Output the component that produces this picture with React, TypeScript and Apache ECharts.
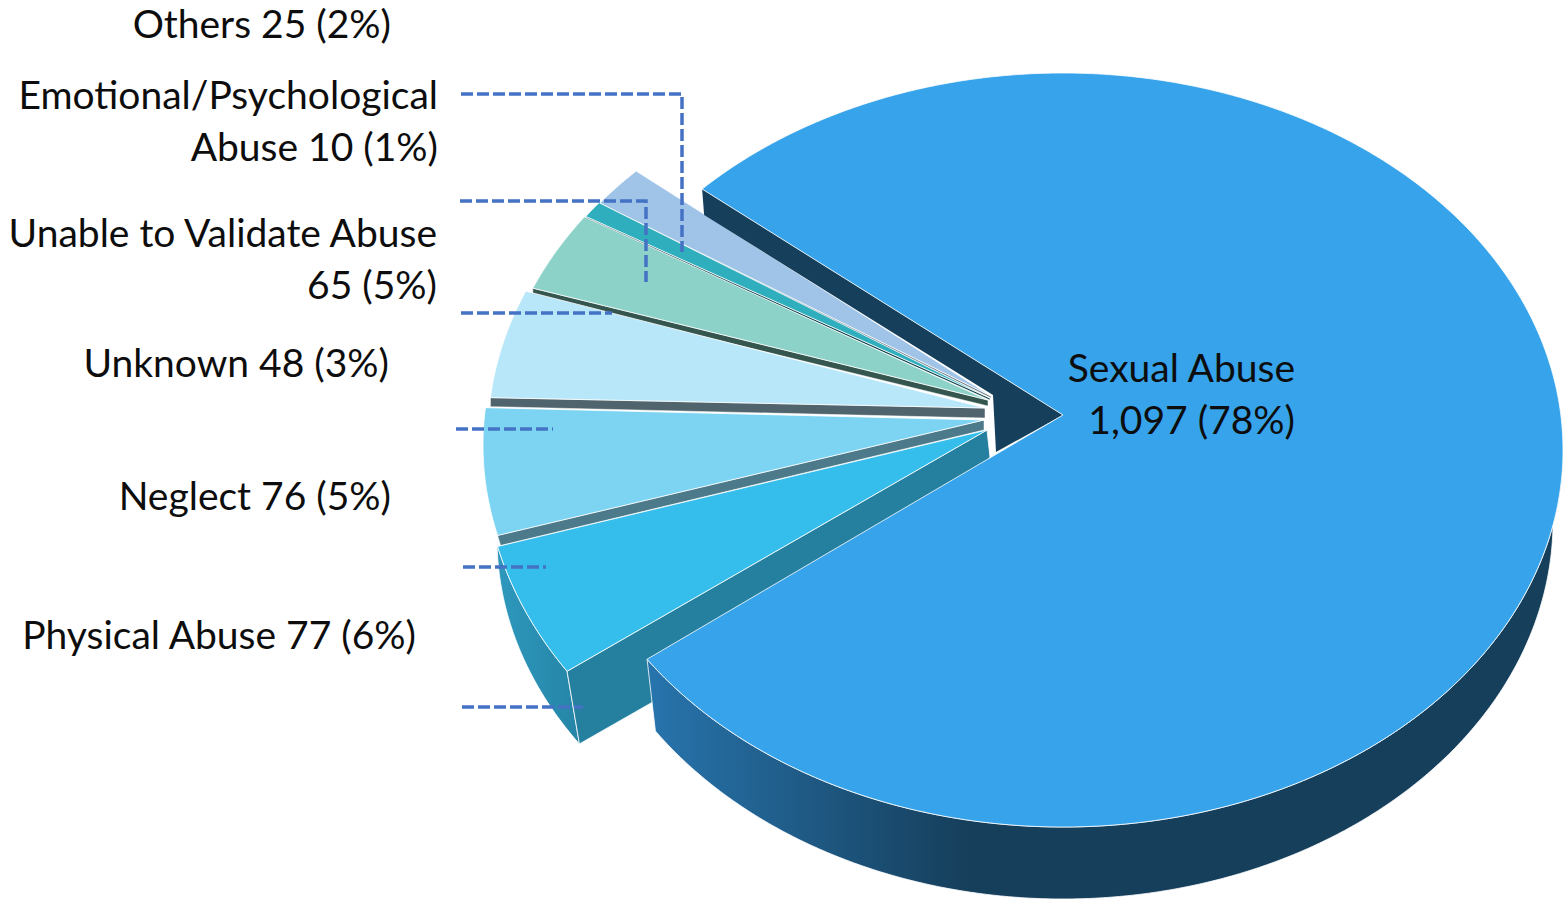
import React, { useEffect, useRef } from "react";
import * as echarts from "echarts";

// ---- data, clockwise from the large slice ----
const names = ["Sexual Abuse", "Physical Abuse", "Neglect", "Unable to Validate Abuse", "Unknown", "Emotional/Psychological\nAbuse", "Others"];
const values = [1097, 77, 76, 65, 48, 10, 25];
const percents = [78, 6, 5, 5, 3, 1, 2];
const separators = ["\n", " ", " ", "\n", " ", " ", " "];

// ---- styles and layout ----
const FONT = "Lato";
const TEXT_COLOR = "#0d0d0d";
const LEADER_COLOR = "#4472c4";
const EDGE = "rgba(255,255,255,0.8)";
const topColors = ["#36a3eb", "#35bdeb", "#7dd4f2", "#b7e7f8", "#8cd2c8", "#2faebd", "#a0c4e8"];
const bandColors = ["", "", "#4d7a8a", "#4f646c", "#35564f", "#15454e", "#6f7a85"];
const bandDepthOuter = [0, 0, 10, 9, 7, 3, 2];
const bandDepthInner = [0, 0, 10, 10, 6, 2, 2];
const bandShiftOuter = [0, 0, 3, 0, 0, 0, 0];
const centers = [[1063, 450], [983, 451.5], [983, 445], [988, 435], [995, 432], [996.5, 431.5], [997, 432]];
const apexes = [[1063, 415], [987, 430], [984, 420], [985, 408], [988, 400], [990, 398], [991, 396]];
const ryPerSlice = [377, 396, 377, 377, 377, 377, 377];
const RX = 500;
const START_ANGLE = 136.2;
const drawOrder = [6, 5, 4, 3, 2, 1, 0];
const labelBoxes = [
  { x: 1295, y: 393, lh: 52 },
  { x: 416, y: 634, lh: 38 },
  { x: 391, y: 495, lh: 38 },
  { x: 437, y: 258, lh: 52 },
  { x: 389, y: 362, lh: 38 },
  { x: 438, y: 120, lh: 52 },
  { x: 391, y: 23, lh: 38 },
];
const leaders = [
  [[461, 94], [682, 94], [682, 252]],
  [[460, 201], [646, 201], [646, 282]],
  [[461, 313], [612, 313]],
  [[456, 429], [553, 429]],
  [[463, 567], [546, 567]],
  [[462, 707], [583, 707]],
];

const total = values.reduce((a, b) => a + b, 0);

function bounds(i: number) {
  let a = START_ANGLE;
  for (let k = 0; k < i; k++) a -= (values[k] / total) * 360;
  const end = a - (values[i] / total) * 360;
  // the small slices are kept on the 90..270 degree side of the ellipse
  return i === 0 ? [a, end] : [a + 360, end + 360];
}
function rim(c: number[], rx: number, ry: number, deg: number) {
  const t = (deg * Math.PI) / 180;
  return [c[0] + rx * Math.cos(t), c[1] - ry * Math.sin(t)];
}
function arc(c: number[], rx: number, ry: number, from: number, to: number) {
  const n = Math.max(2, Math.ceil(Math.abs(to - from) * 2));
  const out: number[][] = [];
  for (let k = 0; k <= n; k++) out.push(rim(c, rx, ry, from + ((to - from) * k) / n));
  return out;
}
function poly(points: number[][], fill: any, stroke: any = EDGE, lineWidth = 1) {
  return { type: "polygon", shape: { points }, style: { fill, stroke, lineWidth } };
}

function renderSlice(_: any, api: any) {
  const i = api.value(0) as number;
  const [a0, a1] = bounds(i);
  const c = centers[i];
  const ap = apexes[i];
  const ry = ryPerSlice[i];
  const children: any[] = [];
  if (i === 0) {
    const bc = [1063, 521.5];
    const wallFill = new echarts.graphic.LinearGradient(655, 0, 965, 0, [
      { offset: 0, color: "#2773ab" },
      { offset: 1, color: "#163f5c" },
    ], true);
    const wall = [...arc(c, RX, ry, a1, 0), ...arc(bc, 490, 377.5, 0, a1)];
    children.push(poly(wall, wallFill));
    const upper = rim(c, RX, ry, a0);
    children.push(poly([upper, ap, [996, 452], [993, 395], [upper[0] + 2, upper[1] + 26]], "#163f5c", "none", 0));
    children.push(poly([ap, ...arc(c, RX, ry, a0, a1)], topColors[0]));
  } else if (i === 1) {
    const bc = [987, 538];
    const p0 = rim(c, RX, ry, a0);
    const p1 = rim(c, RX, ry, a1);
    const wallFill = new echarts.graphic.LinearGradient(497, 0, 580, 0, [
      { offset: 0, color: "#2e98bd" },
      { offset: 1, color: "#2585a6" },
    ], true);
    const bottom = arc(bc, 490, 371, 180, a0);
    children.push(poly([p1, ...bottom, p0, ...arc(c, RX, ry, a0, a1)], wallFill));
    const b0 = rim(bc, 490, 371, a0);
    children.push(poly([p0, ap, [990, 457], [b0[0] + 350, b0[1] - 200], b0], "#25809f"));
    children.push(poly([ap, ...arc(c, RX, ry, a0, a1)], topColors[1]));
  } else {
    const p0 = rim(c, RX, ry, a0);
    children.push(poly([p0, ap, [ap[0], ap[1] + bandDepthInner[i]], [p0[0] + bandShiftOuter[i], p0[1] + bandDepthOuter[i]]], bandColors[i], EDGE, 0.6));
    children.push(poly([ap, ...arc(c, RX, ry, a0, a1)], topColors[i]));
  }
  return { type: "group", children };
}

export default function App() {
  const ref = useRef<HTMLDivElement>(null);
  useEffect(() => {
    document.body.style.margin = "0";
    const chart = echarts.init(ref.current!, undefined, { renderer: "svg" });
    const labelEls = names.map((n, i) => ({
      type: "text",
      x: labelBoxes[i].x,
      y: labelBoxes[i].y,
      z: 10,
      style: {
        text: `${n}${separators[i]}${values[i].toLocaleString("en-US")} (${percents[i]}%)`,
        font: `39px ${FONT}`,
        fill: TEXT_COLOR,
        textAlign: "right",
        textVerticalAlign: "middle",
        lineHeight: labelBoxes[i].lh,
      },
    }));
    const leaderEls = leaders.map((pts) => ({
      type: "polyline",
      z: 9,
      shape: { points: pts },
      style: { stroke: LEADER_COLOR, lineWidth: 3.5, lineDash: [12, 4], fill: "none" },
    }));
    chart.setOption({
      animation: false,
      backgroundColor: "#ffffff",
      graphic: { elements: [...leaderEls, ...labelEls] },
      series: [
        {
          type: "custom",
          coordinateSystem: "none",
          renderItem: renderSlice,
          silent: true,
          clip: false,
          z: 1,
          data: drawOrder.map((i) => [i, values[i]]),
        },
      ],
    });
    return () => chart.dispose();
  }, []);
  return <div ref={ref} style={{ position: "fixed", left: 0, top: 0, width: 1568, height: 900 }} />;
}
